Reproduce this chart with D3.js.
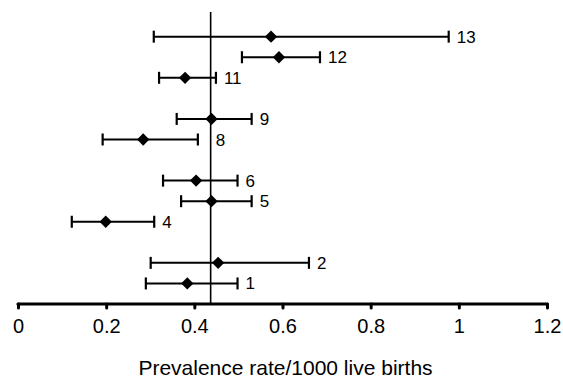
<!DOCTYPE html>
<html>
<head>
<meta charset="utf-8">
<script src="https://cdn.jsdelivr.net/npm/d3@7"></script>
<style>
  body { margin: 0; background: #fff; }
  svg { display: block; }
</style>
</head>
<body>
<svg id="chart"></svg>
<script>
// study number, point estimate and 95% CI (per 1000 live births)
var studies = [13, 12, 11, 9, 8, 6, 5, 4, 2, 1];
var rates   = [0.574, 0.592, 0.379, 0.439, 0.284, 0.404, 0.439, 0.199, 0.454, 0.384];
var lower   = [0.308, 0.508, 0.320, 0.360, 0.192, 0.329, 0.370, 0.122, 0.301, 0.290];
var upper   = [0.977, 0.685, 0.449, 0.530, 0.408, 0.498, 0.530, 0.309, 0.660, 0.498];
var pooled  = 0.437;
var xTicks  = [0, 0.2, 0.4, 0.6, 0.8, 1, 1.2];

var dimensions = {
    width: 563,
    height: 381,
    margin: { top: 12, bottom: 77, left: 18, right: 16 }
}

var dataset = studies.map((s, i) => ({
    study: s,
    rate: rates[i],
    lo: lower[i],
    hi: upper[i]
}));

var svg = d3.select("#chart")
            .attr("width", dimensions.width)
            .attr("height", dimensions.height)
            .style("font-family", "'Liberation Sans', Arial, sans-serif")

var xScale = d3.scaleLinear()
               .domain([0, 1.2])
               .range([dimensions.margin.left, dimensions.width - dimensions.margin.right])

var yScale = d3.scaleLinear()
               .domain([0, 14.2])
               .range([dimensions.height - dimensions.margin.bottom, dimensions.margin.top])

// pooled rate reference line
svg.append("line")
   .attr("x1", xScale(pooled))
   .attr("x2", xScale(pooled))
   .attr("y1", yScale(14.2))
   .attr("y2", yScale(0))
   .attr("stroke", "black")
   .attr("stroke-width", 1.6)

// x axis
var xAxisGen = d3.axisBottom(xScale)
                 .tickValues(xTicks)
                 .tickFormat(d3.format("~g"))
                 .tickSize(4)
                 .tickPadding(11)

var xAxis = svg.append("g")
               .attr("transform", `translate(0, ${yScale(0)})`)
               .call(xAxisGen)

xAxis.select(".domain")
     .attr("d", `M${xScale(0)},0H${xScale(1.2)}`)
     .attr("stroke", "black")
     .attr("stroke-width", 3.2)
     .attr("stroke-linecap", "round")

xAxis.selectAll(".tick line")
     .attr("stroke", "black")
     .attr("stroke-width", 3)
     .attr("stroke-linecap", "round")

xAxis.selectAll(".tick text")
     .attr("fill", "black")
     .style("font-size", "20px")
     .style("font-family", "'Liberation Sans', Arial, sans-serif")

svg.append("text")
   .text("Prevalence rate/1000 live births")
   .attr("x", xScale(0.6) + 3)
   .attr("y", 375)
   .attr("text-anchor", "middle")
   .attr("fill", "black")
   .style("font-size", "21px")

// error bars
var rows = svg.append("g")
              .selectAll("g")
              .data(dataset)
              .enter()
              .append("g")
              .attr("transform", d => `translate(0, ${yScale(d.study)})`)

rows.append("line")
    .attr("x1", d => xScale(d.lo))
    .attr("x2", d => xScale(d.hi))
    .attr("stroke", "black")
    .attr("stroke-width", 2)

rows.selectAll(".cap")
    .data(d => [d.lo, d.hi])
    .enter()
    .append("line")
    .attr("class", "cap")
    .attr("x1", d => xScale(d))
    .attr("x2", d => xScale(d))
    .attr("y1", -6)
    .attr("y2", 6)
    .attr("stroke", "black")
    .attr("stroke-width", 2.2)

rows.append("path")
    .attr("d", d3.symbol().type(d3.symbolSquare).size(76))
    .attr("transform", d => `translate(${xScale(d.rate)}, 0) rotate(45)`)
    .attr("fill", "black")

// labels sit right of the upper cap, or right of the pooled line when the cap is close to it
function labelX(d) {
    var near = d.hi < pooled && pooled - d.hi < 0.05;
    return near ? xScale(pooled) + 5 : xScale(d.hi) + 8;
}

rows.append("text")
    .text(d => d.study)
    .attr("x", labelX)
    .attr("y", d => d.hi < pooled && pooled - d.hi < 0.05 ? 7 : 6)
    .attr("fill", "black")
    .style("font-size", "17px")
</script>
</body>
</html>
